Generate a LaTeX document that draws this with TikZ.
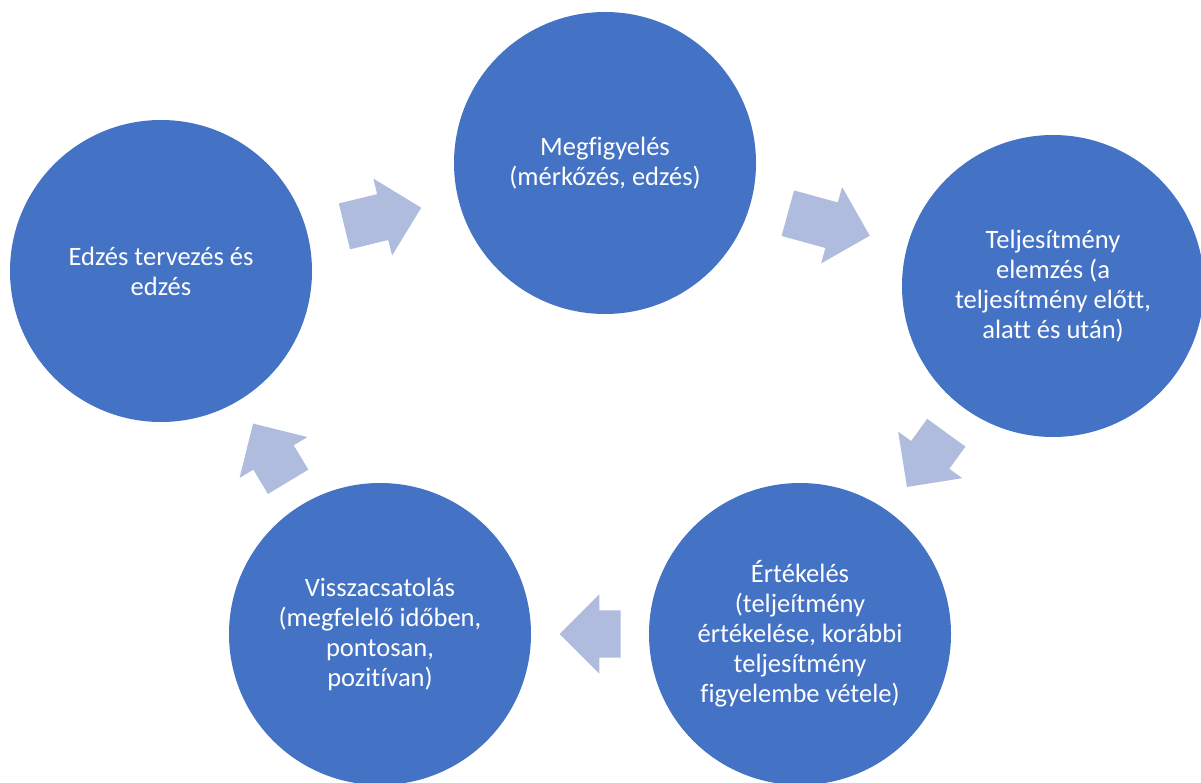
\documentclass[tikz,border=0pt]{standalone}
\usepackage{fontspec}
\setmainfont{Carlito}[Ligatures=NoCommon]
\usetikzlibrary{calc,shapes.arrows}
\definecolor{stageblue}{RGB}{68,114,196}
\definecolor{arrowtint}{RGB}{176,188,222}
\tikzset{
  stagecircle/.style={
    circle,
    fill=stageblue,
    draw=none,
    text=white,
    minimum size=6.04cm,
    inner sep=0pt,
    align=center,
    font=\fontsize{15.1}{17.1}\selectfont
  },
  cyclearrow/.style={
    single arrow,
    fill=arrowtint,
    draw=none,
    inner xsep=0pt,
    inner ysep=0.465cm,
    single arrow head extend=0.32cm,
    sloped,
    allow upside down,
    xshift=-0.24cm
  }
}

\begin{document}
\begin{tikzpicture}[x=1cm,y=1cm]

  % Page frame of the cycle diagram.
  \useasboundingbox (0,0) rectangle (24.02,15.64);

  % The five stages of the coaching cycle.
  \node[stagecircle] (observe) at (12.10,12.38)
    {Megfigyelés\\(mérkőzés, edzés)};
  \node[stagecircle] (analyse) at (21.06,9.92)
    {Teljesítmény\\elemzés (a\\teljesítmény előtt,\\alatt és után)};
  \node[stagecircle] (evaluate) at (16.00,2.96)
    {Értékelés\\(teljeítmény\\értékelése, korábbi\\teljesítmény\\figyelembe vétele)};
  \node[stagecircle] (feedback) at (7.60,2.96)
    {Visszacsatolás\\(megfelelő időben,\\pontosan,\\pozitívan)};
  \node[stagecircle] (plan) at (3.22,10.22)
    {Edzés tervezés és\\edzés};

  % Block arrows halfway between neighbouring stages.
  \path (plan) -- node[cyclearrow,minimum height=1.58cm] (plan-observe) {} (observe);
  \path (observe) -- node[cyclearrow,minimum height=1.70cm] (observe-analyse) {} (analyse);
  \path (analyse) -- node[cyclearrow,minimum height=1.34cm] (analyse-evaluate) {} (evaluate);
  \path (evaluate) -- node[cyclearrow,minimum height=1.22cm] (evaluate-feedback) {} (feedback);
  \path (feedback) -- node[cyclearrow,minimum height=1.36cm] (feedback-plan) {} (plan);

\end{tikzpicture}
\end{document}
